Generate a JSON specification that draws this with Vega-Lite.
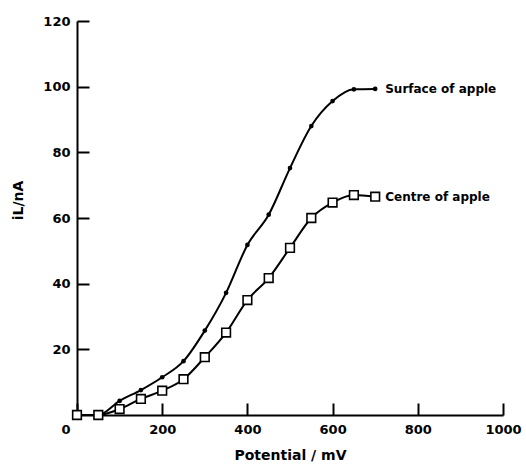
{
  "$schema": "https://vega.github.io/schema/vega-lite/v6.json",
  "width": 426,
  "height": 394,
  "autosize": "none",
  "padding": {"left": 77, "top": 21, "right": 23, "bottom": 49},
  "background": "white",
  "config": {
    "view": {"stroke": null},
    "font": "DejaVu Sans",
    "axis": {
      "grid": false,
      "domainColor": "black",
      "domainWidth": 2,
      "tickColor": "black",
      "tickWidth": 2,
      "tickSize": -12,
      "labelFont": "DejaVu Sans",
      "labelFontWeight": "bold",
      "labelFontSize": 13,
      "labelColor": "black",
      "titleFont": "DejaVu Sans",
      "titleFontWeight": "bold",
      "titleFontSize": 14,
      "titleColor": "black"
    }
  },
  "data": {
    "values": [
      {"series": "Surface of apple", "potential": 0, "current": 0},
      {"series": "Surface of apple", "potential": 50, "current": 0},
      {"series": "Surface of apple", "potential": 100, "current": 4.3},
      {"series": "Surface of apple", "potential": 150, "current": 7.6},
      {"series": "Surface of apple", "potential": 200, "current": 11.5},
      {"series": "Surface of apple", "potential": 250, "current": 16.4},
      {"series": "Surface of apple", "potential": 300, "current": 25.7},
      {"series": "Surface of apple", "potential": 350, "current": 37.2},
      {"series": "Surface of apple", "potential": 400, "current": 51.8},
      {"series": "Surface of apple", "potential": 450, "current": 61},
      {"series": "Surface of apple", "potential": 500, "current": 75.2},
      {"series": "Surface of apple", "potential": 550, "current": 88},
      {"series": "Surface of apple", "potential": 600, "current": 95.6},
      {"series": "Surface of apple", "potential": 650, "current": 99.2},
      {"series": "Surface of apple", "potential": 700, "current": 99.3, "label": "Surface of apple"},
      {"series": "Centre of apple", "potential": 0, "current": 0},
      {"series": "Centre of apple", "potential": 50, "current": 0},
      {"series": "Centre of apple", "potential": 100, "current": 1.8},
      {"series": "Centre of apple", "potential": 150, "current": 4.9},
      {"series": "Centre of apple", "potential": 200, "current": 7.4},
      {"series": "Centre of apple", "potential": 250, "current": 10.9},
      {"series": "Centre of apple", "potential": 300, "current": 17.6},
      {"series": "Centre of apple", "potential": 350, "current": 25.1},
      {"series": "Centre of apple", "potential": 400, "current": 35},
      {"series": "Centre of apple", "potential": 450, "current": 41.7},
      {"series": "Centre of apple", "potential": 500, "current": 50.9},
      {"series": "Centre of apple", "potential": 550, "current": 60},
      {"series": "Centre of apple", "potential": 600, "current": 64.7},
      {"series": "Centre of apple", "potential": 650, "current": 67},
      {"series": "Centre of apple", "potential": 700, "current": 66.5, "label": "Centre of apple"}
    ]
  },
  "encoding": {
    "x": {
      "field": "potential", "type": "quantitative",
      "scale": {"domain": [0, 1000], "nice": false},
      "axis": {
        "values": [0, 200, 400, 600, 800, 1000], "format": "d", "title": "Potential / mV",
        "labelPadding": 20, "titleY": 40, "titleBaseline": "middle",
        "labelAlign": {"condition": {"test": "datum.value === 0", "value": "right"}, "value": "center"},
        "labelOffset": {"condition": {"test": "datum.value === 0", "value": -7}, "value": 0}
      }
    },
    "y": {
      "field": "current", "type": "quantitative",
      "scale": {"domain": [0, 120], "nice": false},
      "axis": {"values": [20, 40, 60, 80, 100, 120], "format": "d", "title": "iL/nA", "labelPadding": 19, "titleX": -59, "titleY": 179, "titleBaseline": "middle", "titleAngle": -90}
    }
  },
  "layer": [
    {
      "mark": {"type": "line", "interpolate": "monotone", "color": "black", "strokeWidth": 2},
      "encoding": {"detail": {"field": "series"}}
    },
    {
      "transform": [{"filter": "datum.series === 'Surface of apple'"}],
      "mark": {"type": "point", "shape": "circle", "filled": true, "color": "black", "size": 22, "opacity": 1}
    },
    {
      "transform": [{"filter": "datum.series === 'Centre of apple'"}],
      "mark": {"type": "point", "shape": "square", "filled": true, "fill": "white", "stroke": "black", "strokeWidth": 1.6, "size": 75, "opacity": 1}
    },
    {
      "transform": [{"filter": "isValid(datum.label)"}],
      "mark": {"type": "text", "align": "left", "baseline": "middle", "dx": 10, "font": "DejaVu Sans", "fontWeight": "bold", "fontSize": 12, "color": "black"},
      "encoding": {"text": {"field": "label"}}
    }
  ]
}
